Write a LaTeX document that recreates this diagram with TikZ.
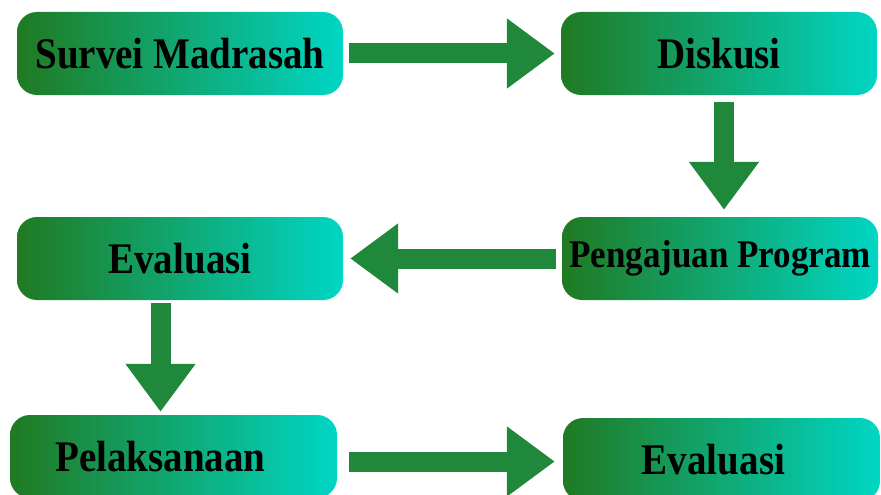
\documentclass[tikz,border=0pt]{standalone}
\usepackage{fontspec}
\setmainfont{Liberation Serif}
\usepackage{xcolor}
\usepackage{graphicx}
\usetikzlibrary{arrows.meta}

\definecolor{leafgreen}{RGB}{32,122,34}
\definecolor{aqua}{RGB}{0,214,196}
\definecolor{arrowgreen}{RGB}{31,136,58}

% taller lettering, as in the scan
\newcommand{\tallword}[1]{\scalebox{1}[1.12]{#1}}

\begin{document}
\begin{tikzpicture}[x=1pt, y=-1pt,
  box/.style={rounded corners=20pt, left color=leafgreen, right color=aqua,
    minimum height=83pt, inner sep=0pt,
    font=\fontsize{39}{45}\selectfont\bfseries},
  flow/.style={arrowgreen, line width=20pt,
    -{Triangle[length=48pt,width=67pt]},
    shorten <=6pt, shorten >=6pt}]
  \useasboundingbox (0,0) rectangle (881,495);
  \clip (0,0) rectangle (881,495);

  % Steps, row by row.
  \node[box, minimum width=326pt] (survei) at (180,53.5) {\tallword{Survei Madrasah}};
  \node[box, minimum width=316pt] (diskusi) at (719,53.5) {\tallword{Diskusi}};
  \node[box, minimum width=316pt, font=\fontsize{35}{40}\selectfont\bfseries]
    (pengajuan) at (720,258.5) {\tallword{Pengajuan Program}};
  \node[box, minimum width=326pt] (evaluasi) at (180,258.5) {\tallword{Evaluasi}};
  \node[box, minimum width=327pt] (pelaksanaan) at (173.5,456.5)
    {\hspace*{-26pt}\tallword{Pelaksanaan}};
  \node[box, minimum width=317pt] (evaluasiakhir) at (721.5,459.5)
    {\hspace*{-16pt}\tallword{Evaluasi}};

  % Block arrows between the steps.
  \draw[flow] (survei) -- (diskusi);
  \draw[flow, shorten <=7pt, shorten >=7pt]
    ([xshift=5pt]diskusi.south) -- ([xshift=5pt]diskusi.south |- pengajuan.north);
  \draw[flow, shorten >=7pt] (pengajuan) -- (evaluasi);
  \draw[flow, shorten <=3pt, shorten >=3pt]
    ([xshift=-19.5pt]evaluasi.south) -- ([xshift=-19.5pt]evaluasi.south |- pelaksanaan.north);
  \draw[flow, shorten <=12pt, shorten >=8pt]
    ([yshift=-5pt]pelaksanaan.east) -- ([yshift=-5pt]pelaksanaan.east -| evaluasiakhir.west);
\end{tikzpicture}
\end{document}
